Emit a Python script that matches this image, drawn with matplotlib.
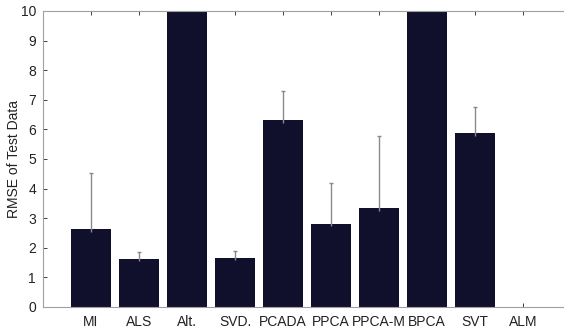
import matplotlib.pyplot as plt
import numpy as np

plt.rcParams['font.family'] = ['Liberation Sans', 'DejaVu Sans']

methods = ["MI", "ALS", "Alt.", "SVD.", "PCADA", "PPCA", "PPCA-M", "BPCA", "SVT", "ALM"]
rmse = [2.62, 1.62, 12.0, 1.67, 6.31, 2.80, 3.33, 12.0, 5.87, 0.0]
rmse_std = [1.90, 0.23, 0.0, 0.23, 1.00, 1.40, 2.46, 0.0, 0.90, 0.0]

fig = plt.figure(figsize=(5.64, 3.31), dpi=100)
ax = fig.add_axes([43 / 564, 24 / 331, 528 / 564, 296 / 331])

x = np.arange(1, len(methods) + 1)
ax.bar(x, rmse, width=0.83, color="#10102c", zorder=2)

# only the upper half of each error bar, with a short cap
y = np.array(rmse)
e = np.array(rmse_std)
m = e > 0
ax.vlines(x[m], y[m] - 0.08, y[m] + e[m], color="#8a8a8a", lw=1.0, zorder=3)
ax.hlines(y[m] + e[m], x[m] - 0.04, x[m] + 0.04, color="#8a8a8a", lw=1.0, zorder=3)

ax.set_xlim(0, 11)
ax.set_ylim(0, 10)
ax.set_yticks(range(0, 11))
ax.set_xticks(x)
ax.set_xticklabels(methods)
ax.tick_params(direction="in", length=3, labelsize=10, colors="#222222",
               top=True, right=True, width=0.6)
ax.tick_params(axis="x", pad=6)
ax.tick_params(axis="y", pad=5)
for s in ax.spines.values():
    s.set_color("#a0a0a0")
    s.set_linewidth(0.8)
ax.set_ylabel("RMSE of Test Data", fontsize=10, color="#222222")
ax.yaxis.set_label_coords(-0.041, 0.5)

fig.savefig("out.png", dpi=100)
